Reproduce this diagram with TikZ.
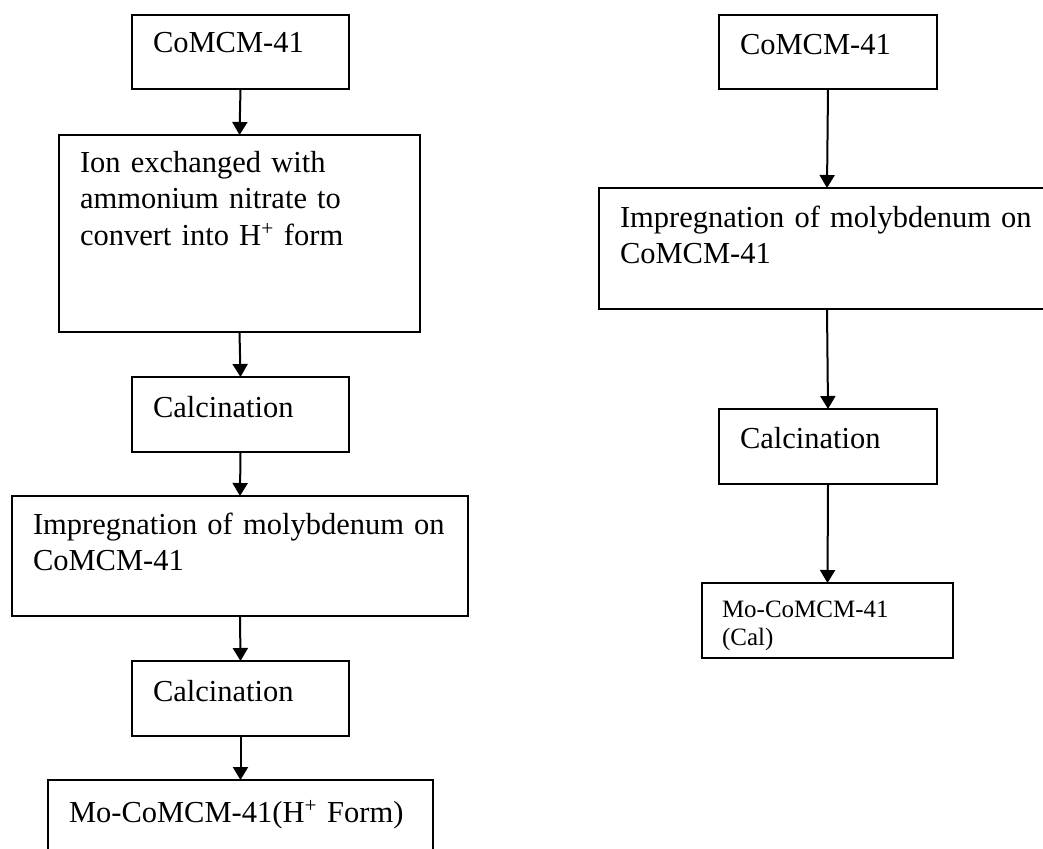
\documentclass[tikz,border=0pt]{standalone}
\usepackage{fontspec}
\setmainfont{Liberation Serif}
\usepackage{tikz}
\usetikzlibrary{arrows.meta}
\tikzstyle{stage} = [draw, line width=2pt, anchor=north west, outer sep=0pt, inner xsep=21pt, inner ysep=0pt, align=left, font=\fontsize{30.5}{36.5}\selectfont]
\tikzstyle{arrow} = [line width=2pt,-{Triangle[width=15pt,length=13pt]}]

\begin{document}
\begin{tikzpicture}[x=1pt,y=-1pt]
\useasboundingbox (0,0) rectangle (1043,848);
% left column
\draw (132,15) node (comcmA) [stage, text width=175pt, text height=38pt, text depth=36pt] {CoMCM-41};
\draw (59,135) node (ionex) [stage, text width=319pt, text height=37pt, text depth=160pt] {Ion exchanged with\\ammonium nitrate to\\convert into H\textsuperscript{+} form};
\draw (132,377) node (calcA) [stage, text width=175pt, text height=40pt, text depth=35pt] {Calcination};
\draw (12,496) node (impA) [stage, text width=414pt, text height=38pt, text depth=82pt] {Impregnation of molybdenum on\\CoMCM-41};
\draw (132,661) node (calcB) [stage, text width=175pt, text height=40pt, text depth=35pt] {Calcination};
\draw (48,780) node (prodA) [stage, text width=343pt, text height=42pt, text depth=58pt] {Mo-CoMCM-41(H\textsuperscript{+} Form)};
\draw[arrow] (comcmA.south) -- (ionex.north);
\draw[arrow] (ionex.south) -- (calcA.north);
\draw[arrow] (calcA.south) -- (impA.north);
\draw[arrow] (impA.south) -- (calcB.north);
\draw[arrow] (calcB.south) -- (prodA.north);
% right column
\draw (719,15) node (comcmB) [stage, text width=176pt, text height=40pt, text depth=34pt] {CoMCM-41};
\draw (599,188) node (impB) [stage, text width=414pt, text height=39pt, text depth=82pt] {Impregnation of molybdenum on\\CoMCM-41};
\draw (719,409) node (calcC) [stage, text width=176pt, text height=39pt, text depth=36pt] {Calcination};
\draw (702,583) node (prodB) [stage, inner xsep=20pt, text width=211pt, text height=34pt, text depth=41pt, font=\fontsize{25}{28}\selectfont] {Mo-CoMCM-41\\(Cal)};
\draw[arrow] (comcmB.south) -- (impB.north);
\draw[arrow] (impB.south) -- (calcC.north);
\draw[arrow] (calcC.south) -- (prodB.north);
\end{tikzpicture}
\end{document}
